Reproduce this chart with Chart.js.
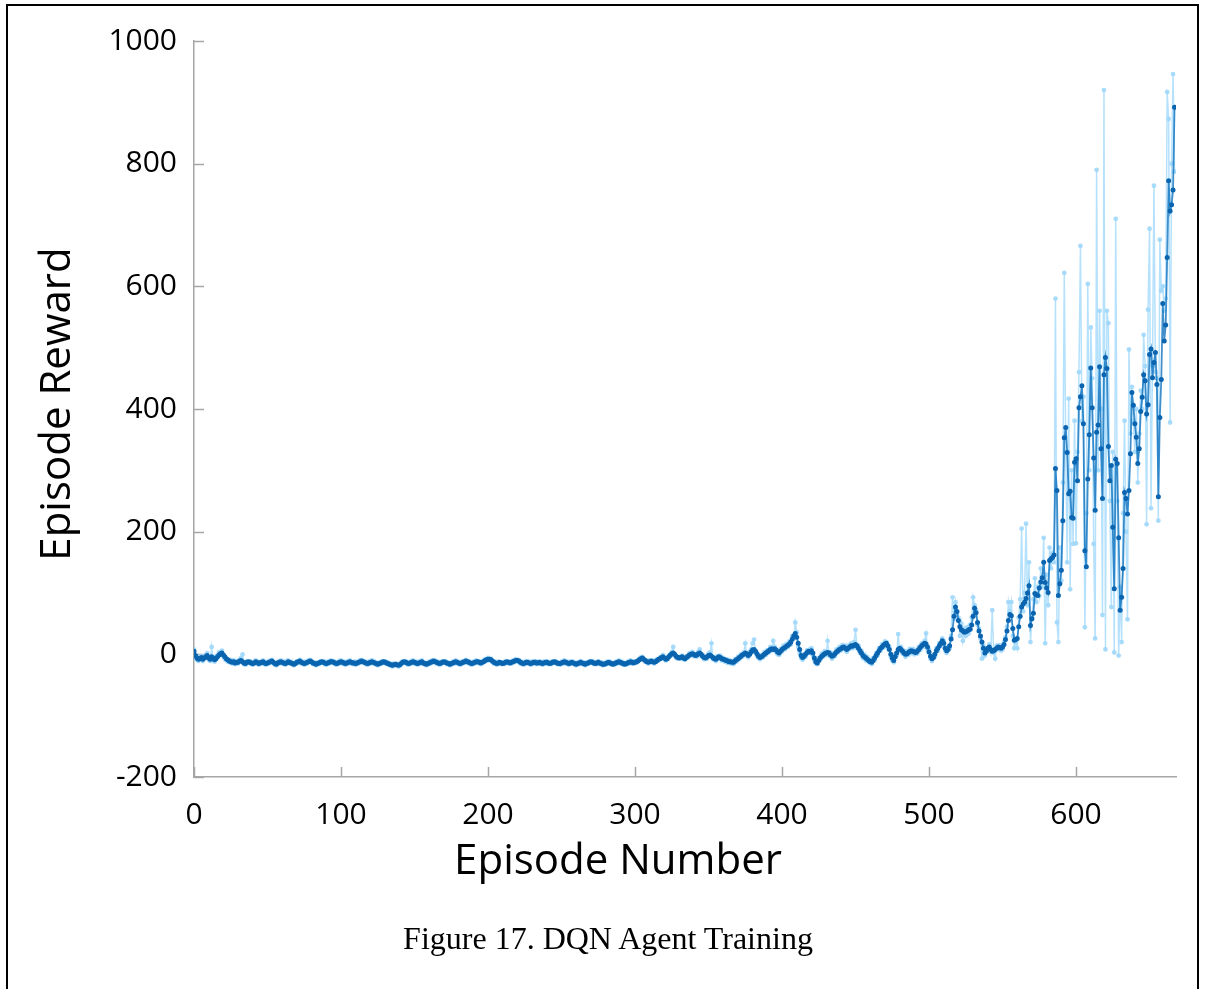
<!DOCTYPE html>
<html>
<head>
<meta charset="utf-8">
<script src="https://cdn.jsdelivr.net/npm/chart.js@4.4.0/dist/chart.umd.min.js"></script>
<style>
  html, body { margin: 0; padding: 0; background: #fff; }
  #wrap { position: relative; width: 1206px; height: 989px; overflow: hidden; }
  #frame { position: absolute; left: 6px; top: 4px; width: 1189px; height: 1000px; border: 2px solid #000; border-bottom: none; }
  #caption { position: absolute; left: 0; top: 920px; width: 1216px; text-align: center; font: 32px "Liberation Serif", "Times New Roman", serif; color: #000; }
  canvas { position: absolute; left: 0; top: 0; }
</style>
</head>
<body>
<div id="wrap">
  <div id="frame"></div>
  <canvas id="rewardChart" width="1206" height="989"></canvas>
  <div id="caption">Figure 17. DQN Agent Training</div>
</div>
<script>
// running average of the episode reward, one value per episode (0..667)
const avgReward = [
  5, -2, -6, -8, -7, -5, -8, -6, -4, -2,
  -6, -8, -4, -6, -9, -7, -4, -1, 1, 2,
  -1, -4, -7, -9, -11, -12, -13, -12, -14, -13,
  -13, -11, -10, -12, -14, -15, -13, -12, -13, -14,
  -15, -14, -12, -13, -15, -14, -13, -12, -14, -15,
  -14, -13, -12, -11, -13, -15, -16, -14, -13, -12,
  -13, -14, -15, -14, -12, -13, -14, -15, -16, -15,
  -13, -12, -11, -13, -14, -15, -14, -13, -12, -11,
  -12, -14, -15, -16, -15, -14, -13, -12, -13, -14,
  -15, -14, -13, -12, -12, -13, -14, -15, -14, -13,
  -12, -13, -14, -15, -14, -13, -12, -13, -14, -14,
  -15, -14, -13, -12, -11, -12, -13, -14, -15, -14,
  -13, -12, -13, -14, -15, -16, -15, -14, -13, -12,
  -13, -14, -15, -16, -17, -18, -17, -16, -17, -18,
  -17, -15, -13, -12, -13, -14, -15, -14, -13, -12,
  -13, -14, -15, -14, -13, -12, -14, -15, -16, -15,
  -14, -13, -12, -11, -12, -13, -14, -15, -14, -13,
  -12, -13, -14, -15, -16, -15, -14, -13, -12, -13,
  -14, -15, -14, -13, -12, -11, -12, -13, -14, -15,
  -14, -13, -12, -12, -13, -14, -13, -12, -10, -9,
  -8, -8, -9, -11, -13, -14, -15, -14, -13, -14,
  -15, -14, -13, -12, -13, -14, -13, -12, -11, -10,
  -10, -11, -13, -14, -15, -14, -13, -13, -14, -15,
  -14, -13, -13, -14, -14, -13, -14, -15, -14, -13,
  -13, -14, -15, -14, -13, -12, -13, -14, -15, -15,
  -14, -13, -12, -13, -14, -15, -14, -13, -14, -15,
  -16, -15, -14, -13, -14, -15, -16, -15, -14, -13,
  -12, -13, -14, -15, -14, -13, -14, -15, -16, -16,
  -15, -14, -13, -14, -15, -16, -15, -14, -13, -12,
  -13, -14, -15, -16, -15, -14, -13, -12, -13, -14,
  -13, -12, -11, -9, -7, -6, -8, -10, -12, -13,
  -12, -11, -12, -13, -12, -10, -8, -7, -5, -4,
  -6, -8, -7, -4, -1, 1, 2, 0, -3, -5,
  -6, -5, -4, -6, -7, -5, -3, -1, 0, 1,
  0, -2, -1, 1, 2, 0, -3, -5, -6, -4,
  -2, -1, -3, -5, -7, -8, -6, -4, -5, -7,
  -8, -9, -10, -11, -12, -12, -13, -13, -11, -9,
  -7, -5, -3, -1, 0, 2, 1, -2, 0, 4,
  7, 8, 5, 1, -3, -5, -4, -2, 0, 2,
  4, 6, 8, 9, 8, 9, 7, 4, 2, 5,
  8, 10, 11, 13, 15, 17, 20, 25, 30, 34,
  28, 18, 8, -2, -5, -3, 0, 3, 5, 4,
  6, 2, -6, -12, -14, -10, -6, -3, -1, 1,
  2, 3, 2, -1, -3, -2, 1, 4, 6, 8,
  9, 11, 12, 10, 8, 10, 12, 14, 13, 15,
  16, 14, 10, 6, 2, -2, -4, -6, -8, -10,
  -12, -13, -10, -6, -2, 2, 6, 10, 12, 15,
  17, 18, 14, 8, 0, -6, -10, -4, 2, 8,
  10, 8, 5, 2, 0, 1, 3, 5, 6, 5,
  4, 3, 5, 8, 11, 14, 16, 18, 17, 12,
  4, -3, -7, -5, 0, 6, 10, 14, 18, 22,
  18, 10, 6, 8, 14, 25, 40, 62, 77, 70,
  55, 45, 40, 38, 36, 37, 38, 40, 41, 48,
  62, 75, 68, 52, 38, 30, 20, 10, 2, 5,
  10, 12, 8, 5, 6, 8, 10, 12, 11, 10,
  12, 16, 24, 38, 55, 65, 63, 42, 23, 24,
  26, 45, 62, 77, 82, 85, 91, 100, 112, 47,
  58, 67, 99, 97, 96, 108, 118, 125, 150, 117,
  108, 101, 153, 156, 158, 162, 303, 267, 96, 115,
  137, 218, 353, 370, 329, 262, 266, 223, 222, 313,
  319, 283, 402, 420, 438, 376, 169, 143, 286, 358,
  467, 402, 320, 235, 362, 374, 469, 335, 254, 456,
  484, 466, 339, 283, 308, 207, 107, 318, 311, 190,
  72, 93, 140, 264, 254, 229, 267, 327, 427, 406,
  376, 354, 311, 335, 396, 419, 456, 446, 392, 407,
  489, 498, 451, 476, 492, 440, 257, 386, 448, 572,
  511, 537, 647, 772, 723, 733, 757, 892
];

// raw reward of each episode
const episodeReward = [
  8, -6, -9, -11, -4, -3, -11, -4, -1, 2,
  -9, -11, 12, -10, -12, -3, -2, 3, 4, 6,
  -4, -8, -10, -12, -13, -9, -15, -10, -16, -11,
  -15, -9, -6, 0, -16, -17, -11, -14, -11, -16,
  -17, -12, -10, -15, -17, -12, -15, -10, -16, -17,
  -12, -15, -10, -9, -15, -17, -18, -12, -15, -10,
  -15, -12, -17, -12, -10, -15, -12, -17, -18, -13,
  -11, -14, -9, -15, -12, -17, -12, -15, -10, -9,
  -14, -16, -13, -18, -13, -16, -11, -14, -11, -16,
  -17, -12, -15, -10, -14, -11, -16, -17, -12, -15,
  -10, -15, -12, -17, -12, -15, -10, -15, -16, -12,
  -17, -12, -15, -10, -9, -14, -11, -16, -17, -12,
  -15, -10, -15, -12, -17, -18, -13, -16, -11, -14,
  -11, -16, -13, -18, -15, -20, -15, -18, -15, -20,
  -19, -13, -11, -14, -11, -16, -17, -12, -15, -10,
  -15, -12, -17, -12, -15, -10, -16, -13, -18, -17,
  -12, -15, -10, -13, -10, -15, -12, -17, -16, -11,
  -14, -11, -16, -13, -18, -17, -12, -15, -10, -15,
  -12, -17, -16, -11, -14, -9, -14, -11, -16, -17,
  -12, -15, -10, -14, -11, -16, -15, -10, -8, -11,
  -6, -10, -7, -13, -15, -12, -17, -12, -15, -16,
  -13, -16, -11, -14, -15, -12, -15, -10, -13, -8,
  -12, -9, -15, -12, -17, -16, -11, -15, -12, -17,
  -12, -15, -11, -16, -12, -15, -12, -17, -12, -15,
  -11, -16, -13, -16, -11, -14, -11, -16, -13, -17,
  -12, -15, -10, -15, -12, -17, -12, -15, -12, -17,
  -18, -13, -16, -11, -16, -13, -18, -13, -16, -11,
  -14, -11, -16, -13, -16, -11, -16, -13, -18, -14,
  -17, -12, -15, -12, -17, -14, -17, -12, -15, -10,
  -15, -12, -17, -14, -17, -12, -15, -10, -15, -12,
  -11, -14, -9, -7, -5, -4, -10, -12, -10, -15,
  -10, -13, -10, -15, -10, -8, -10, -5, -7, -1,
  -8, -10, -5, -2, -3, 4, 12, -2, -5, -7,
  -4, -7, -2, -8, -9, -3, -5, 2, -2, 4,
  -3, 0, -4, 4, 8, -3, -1, -8, -4, -7,
  1, 3, 18, -8, -5, -11, -3, -7, -2, -10,
  -6, -12, -8, -14, -9, -15, -11, -16, -8, -12,
  -4, -8, 0, -4, 3, 18, -2, -5, 4, 8,
  18, 24, 2, -3, -6, -8, -1, -5, 4, -1,
  7, 3, 12, 6, 22, 12, 4, 0, -1, 9,
  5, 14, 8, 17, 12, 21, 16, 30, 26, 52,
  36, 12, 2, -6, -9, 0, -4, 7, 2, 8,
  10, -2, -10, -15, -16, -6, -9, 1, -4, 5,
  -1, 22, -2, 3, -7, 2, -3, 8, 3, 12,
  6, 15, 9, 14, 4, 14, 9, 18, 10, 20,
  40, 10, 14, 2, 6, -6, 0, -10, -4, -13,
  -9, -16, -6, -10, 2, -2, 10, 6, 16, 11,
  21, 20, 10, 12, -4, -10, -13, 0, -2, 33,
  6, 12, 1, 6, -4, 5, -1, 9, 2, 9,
  0, 7, 1, 12, 7, 18, 12, 22, 34, 8,
  8, -7, -11, -1, -4, 10, 6, 18, 14, 26,
  22, 6, 2, 12, 10, 30, 93, 58, 85, 66,
  60, 30, 50, 22, 42, 30, 44, 34, 48, 60,
  93, 80, 72, 48, 42, 26, -7, 14, -2, 9,
  6, 16, 4, 72, 2, -7, 14, 8, 15, 6,
  8, 20, 28, 45, 85, 70, 85, 30, 10, 20,
  10, 60, 90, 205, 70, 100, 213, 80, 150, 20,
  60, 90, 124, 85, 110, 95, 140, 110, 190, 18,
  130, 80, 174, 140, 165, 150, 580, 52, 20, 174,
  120, 280, 622, 330, 150, 417, 106, 300, 180, 381,
  181, 330, 460, 666, 380, 420, 44, 230, 604, 300,
  533, 450, 180, 26, 790, 300, 560, 400, 64, 920,
  8, 560, 540, 250, 77, 330, 3, 710, 250, -2,
  110, 20, 230, 381, 200, 57, 497, 360, 436, 380,
  330, 400, 280, 360, 430, 400, 521, 470, 212, 562,
  694, 238, 470, 764, 460, 450, 218, 676, 593, 600,
  560, 580, 917, 873, 378, 800, 946, 787
];

const xTicks = [0, 100, 200, 300, 400, 500, 600];
const yTicks = [-200, 0, 200, 400, 600, 800, 1000];

const axisGrey = '#a6a6a6';
const labelFont = { family: 'Open Sans', size: 30 };

// short tick marks pointing into the plot area
const innerTicks = {
  id: 'innerTicks',
  beforeDatasetsDraw(chart) {
    const { ctx, chartArea: a, scales: { x, y } } = chart;
    ctx.save();
    ctx.strokeStyle = axisGrey;
    ctx.lineWidth = 1.5;
    ctx.beginPath();
    yTicks.forEach(v => {
      const py = Math.round(y.getPixelForValue(v)) + 0.5;
      ctx.moveTo(a.left, py);
      ctx.lineTo(a.left + 10, py);
    });
    xTicks.forEach(v => {
      const px = Math.round(x.getPixelForValue(v)) + 0.5;
      ctx.moveTo(px, a.bottom);
      ctx.lineTo(px, a.bottom - 10);
    });
    ctx.stroke();
    ctx.restore();
  }
};

// axis titles
const axisTitles = {
  id: 'axisTitles',
  afterDraw(chart) {
    const { ctx } = chart;
    ctx.save();
    ctx.fillStyle = '#000';
    ctx.font = '42px "Open Sans"';
    ctx.textAlign = 'center';
    ctx.textBaseline = 'middle';
    ctx.fillText('Episode Number', 618, 862);
    ctx.translate(58, 404);
    ctx.rotate(-Math.PI / 2);
    ctx.fillText('Episode Reward', 0, 0);
    ctx.restore();
  }
};

const ctx = document.getElementById('rewardChart').getContext('2d');

new Chart(ctx, {
  type: 'line',
  data: {
    datasets: [
      {
        label: 'Average Reward',
        data: avgReward.map((v, i) => ({ x: i, y: v })),
        borderColor: 'rgba(0, 105, 185, 0.75)',
        borderWidth: 1.8,
        pointRadius: 2.5,
        pointBorderWidth: 0,
        pointBackgroundColor: 'rgb(10, 100, 175)',
        tension: 0
      },
      {
        label: 'Episode Reward',
        data: episodeReward.map((v, i) => ({ x: i, y: v })),
        borderColor: 'rgba(150, 212, 252, 0.7)',
        borderWidth: 1.5,
        pointRadius: 2.4,
        pointBorderWidth: 0,
        pointBackgroundColor: 'rgba(160, 215, 250, 0.9)',
        tension: 0
      }
    ]
  },
  options: {
    responsive: false,
    animation: false,
    layout: { padding: { left: 0, top: 41, right: 30, bottom: 0 } },
    plugins: {
      legend: { display: false },
      tooltip: { enabled: false }
    },
    scales: {
      x: {
        type: 'linear',
        min: 0,
        max: 668,
        grid: { display: false, drawTicks: false },
        border: { color: axisGrey, width: 1.5 },
        ticks: {
          stepSize: 100,
          includeBounds: false,
          padding: 20,
          color: '#000',
          font: labelFont,
          callback: v => String(v)
        },
        afterFit: s => { s.height = 212; }
      },
      y: {
        min: -200,
        max: 1000,
        grid: { display: false, drawTicks: false },
        border: { color: axisGrey, width: 1.5 },
        ticks: {
          stepSize: 200,
          padding: 17,
          color: '#000',
          font: labelFont,
          callback: v => String(v)
        },
        afterFit: s => { s.width = 194; }
      }
    }
  },
  plugins: [innerTicks, axisTitles]
});
</script>
</body>
</html>
